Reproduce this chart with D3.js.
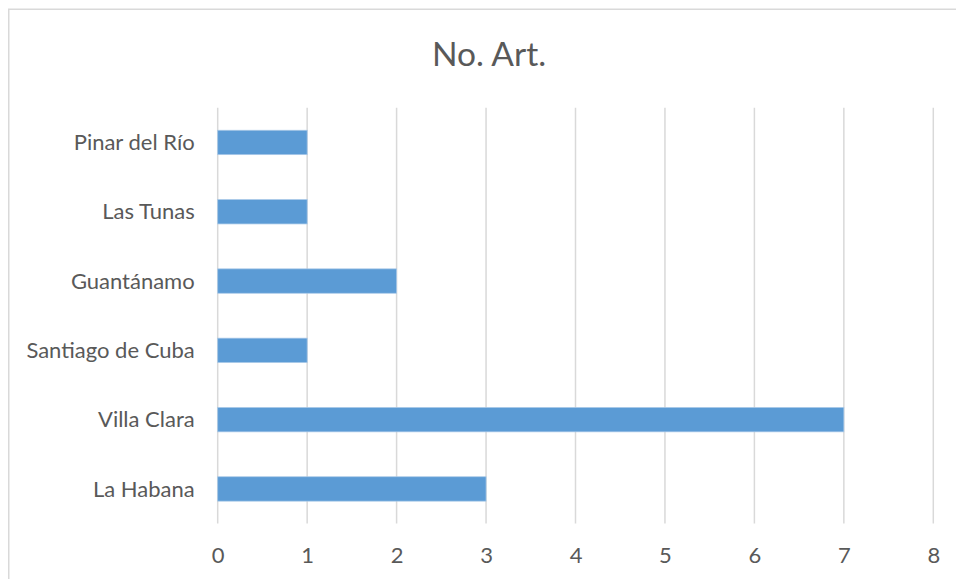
<html>
<head>
<meta charset="utf-8">
<title>No. Art.</title>
<script src="https://d3js.org/d3.v7.min.js"></script>
<style>
  body { margin:0px; padding:0px; background:#fff; overflow:hidden; }
  svg text { font-family: Lato, "Open Sans", sans-serif; fill:#595959; }
</style>
</head>
<body>
<svg id="chart" width="956" height="579"></svg>
<script>
var provincias = ['Pinar del Río', 'Las Tunas', 'Guantánamo', 'Santiago de Cuba', 'Villa Clara', 'La Habana'];
var articulos = [1, 1, 2, 1, 7, 3];
var ticks = [0, 1, 2, 3, 4, 5, 6, 7, 8];
var titulo = 'No. Art.';

var svg = d3.select('#chart');

// chart frame, cut off at right and bottom like the reference
svg.append('rect')
  .attr('x', 8.75).attr('y', 9.25)
  .attr('width', 1000).attr('height', 1000)
  .attr('fill', 'none')
  .attr('stroke', '#d9d9d9')
  .attr('stroke-width', 1.5);

var x = d3.scaleLinear().domain([0, 8]).range([217.7, 933.3]);
var y = d3.scaleBand().domain(provincias).range([107.8, 523.6])
  .paddingInner(0.648).paddingOuter(0.324);

svg.append('text')
  .attr('x', 489).attr('y', 65.5)
  .attr('text-anchor', 'middle')
  .style('font-size', '33.5px')
  .text(titulo);

// vertical gridlines
svg.selectAll('line.grid')
  .data(ticks)
  .enter()
  .append('line')
  .attr('class', 'grid')
  .attr('x1', function(d) {return x(d)})
  .attr('x2', function(d) {return x(d)})
  .attr('y1', y.range()[0])
  .attr('y2', y.range()[1])
  .attr('stroke', '#d9d9d9')
  .attr('stroke-width', 1.5);

svg.selectAll('rect.bar')
  .data(articulos)
  .enter()
  .append('rect')
  .attr('class', 'bar')
  .attr('x', x(0))
  .attr('y', function(d, i) {return y(provincias[i])})
  .attr('width', function(d) {return x(d) - x(0)})
  .attr('height', y.bandwidth())
  .attr('fill', '#5b9bd5')
  .attr('stroke', '#a9c9e8')
  .attr('stroke-width', 0.75);

// category axis (no line, no ticks)
var yAxis = svg.append('g')
  .attr('transform', 'translate(' + (x(0) - 23) + ',0)')
  .call(d3.axisLeft(y).tickSize(0).tickPadding(0));
yAxis.select('.domain').remove();
yAxis.selectAll('text')
  .style('font-size', '22px')
  .attr('fill', '#595959')
  .attr('dy', '0.35em');

// value axis labels
var xAxis = svg.append('g')
  .attr('transform', 'translate(0,555)')
  .call(d3.axisBottom(x).tickValues(ticks).tickSize(0).tickPadding(0).tickFormat(d3.format('d')));
xAxis.select('.domain').remove();
xAxis.selectAll('text')
  .style('font-size', '22px')
  .attr('fill', '#595959')
  .attr('dy', '0.35em');
</script>
</body>
</html>
